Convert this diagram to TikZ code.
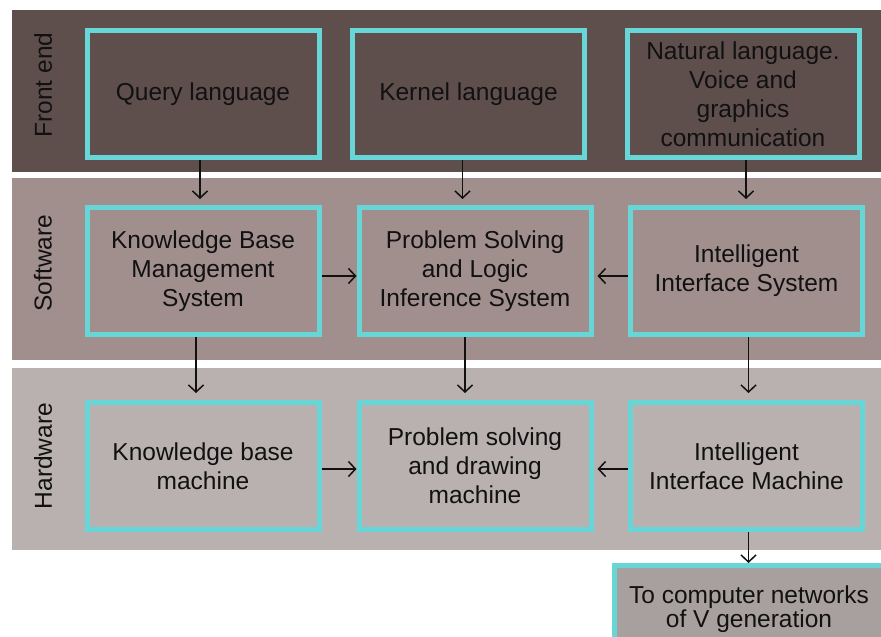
\documentclass[tikz,border=0pt]{standalone}
\usepackage{fontspec}
\setmainfont{Liberation Sans}
\usetikzlibrary{arrows.meta}
\definecolor{frontbg}{RGB}{94,79,77}
\definecolor{softbg}{RGB}{160,143,141}
\definecolor{hardbg}{RGB}{185,177,176}
\definecolor{netbg}{RGB}{168,160,159}
\definecolor{boxline}{RGB}{104,213,214}
\definecolor{txt}{RGB}{17,17,17}
\begin{document}
\begin{tikzpicture}[x=1pt,y=-1pt,
	box/.style={draw=boxline, line width=5pt, minimum width=232pt, minimum height=127pt,
		inner sep=0pt, align=center, text=txt, font=\fontsize{24.5}{29}\selectfont},
	layer/.style={rotate=90, text=txt, font=\fontsize{24.5}{29}\selectfont},
	arr/.style={-{Straight Barb[length=7pt,width=15pt]}, line width=1.5pt, txt}]
	\useasboundingbox (0,0) rectangle (881,637);
	\clip (0,0) rectangle (881,637);
	% the three bands
	\fill[frontbg] (12,10) rectangle (890,172);
	\fill[softbg] (12,178) rectangle (890,360);
	\fill[hardbg] (12,368) rectangle (890,550);
	\node[layer] (front) at (43,85) {Front end};
	\node[layer] (soft) at (43,263) {Software};
	\node[layer] (hard) at (43,456) {Hardware};
	% front end
	\node[box] (ql) at (203,94) {Query language};
	\node[box] (kl) at (468.5,94) {Kernel language};
	\node[box] (nl) at (743,94) {Natural language.\\Voice and\\graphics\\communication};
	% software
	\node[box] (kbms) at (203,271) {Knowledge Base\\Management\\System};
	\node[box] (plis) at (475,271) {Problem Solving\\and Logic\\Inference System};
	\node[box] (iis) at (746.5,271) {Intelligent\\Interface System};
	% hardware
	\node[box] (kbm) at (203,466) {Knowledge base\\machine};
	\node[box] (psdm) at (475,466) {Problem solving\\and drawing\\machine};
	\node[box] (iim) at (746.5,466) {Intelligent\\Interface Machine};
	% box running off the page: only its top and left edges show
	\node[fill=netbg, minimum width=300pt, minimum height=100pt, inner sep=0pt, anchor=north west] (net) at (612,563) {};
	\draw[boxline, line width=5pt] (net.north east) ++(0,2.5) -| ([xshift=2.5pt]net.south west);
	\node[text=txt, align=center, inner sep=0pt, font=\fontsize{24.5}{23.5}\selectfont] (nettxt) at (749,609) {To computer networks\\of V generation};
	% arrows between layers
	\draw[arr, shorten >=6pt] ([xshift=-3pt]ql.south) -- ([xshift=-3pt]ql.south |- kbms.north);
	\draw[arr, shorten >=6pt] ([xshift=-6pt]kl.south) -- ([xshift=-6pt]kl.south |- plis.north);
	\draw[arr, shorten >=6pt] ([xshift=3pt]nl.south) -- ([xshift=3pt]nl.south |- iis.north);
	\draw[arr, shorten >=7pt] ([xshift=-7pt]kbms.south) -- ([xshift=-7pt]kbms.south |- kbm.north);
	\draw[arr, shorten >=7pt] ([xshift=-10pt]plis.south) -- ([xshift=-10pt]plis.south |- psdm.north);
	\draw[arr, shorten >=7pt] ([xshift=2pt]iis.south) -- ([xshift=2pt]iis.south |- iim.north);
	\draw[arr] ([xshift=2pt]iim.south) -- ([xshift=2pt]iim.south |- net.north);
	% arrows inside a layer
	\draw[arr] ([yshift=-5pt]kbms.east) -- ([yshift=-5pt]kbms.east -| plis.west);
	\draw[arr, shorten >=4pt] ([yshift=-5pt]iis.west) -- ([yshift=-5pt]iis.west -| plis.east);
	\draw[arr] ([yshift=-3pt]kbm.east) -- ([yshift=-3pt]kbm.east -| psdm.west);
	\draw[arr, shorten >=4pt] ([yshift=-3pt]iim.west) -- ([yshift=-3pt]iim.west -| psdm.east);
\end{tikzpicture}
\end{document}
